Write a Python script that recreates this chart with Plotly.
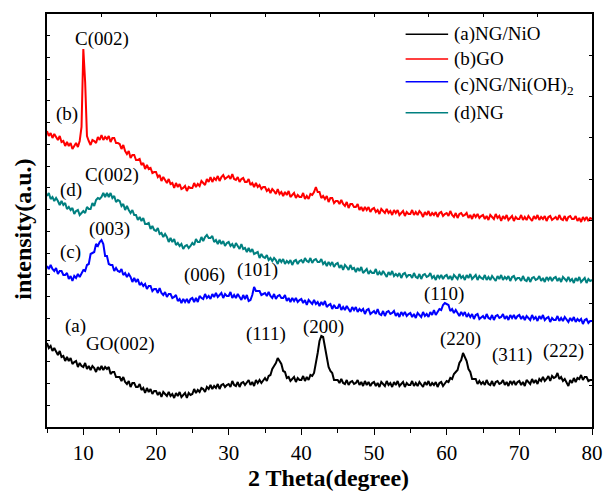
import numpy as np
import plotly.graph_objects as go

# 2-theta sampling grid (degrees), 0.25 deg step
two_theta = np.linspace(5, 80, 301)

# intensities (a.u.)
ng_nio = [
    84, 79, 81, 76, 79, 76, 72, 76, 70, 71, 66, 70, 66, 69, 63, 65, 66, 60, 64, 61,
    60, 64, 58, 61, 57, 61, 59, 55, 60, 57, 61, 57, 60, 58, 60, 53, 55, 55, 50, 50,
    50, 46, 50, 45, 43, 46, 40, 44, 44, 40, 40, 43, 37, 39, 34, 39, 35, 38, 33, 36,
    36, 32, 35, 30, 35, 33, 31, 35, 31, 33, 29, 34, 31, 35, 30, 32, 34, 29, 34, 32,
    33, 38, 34, 37, 35, 39, 38, 35, 40, 38, 42, 38, 41, 39, 43, 38, 42, 43, 40, 42,
    43, 40, 46, 42, 41, 45, 40, 44, 45, 42, 44, 47, 42, 45, 41, 47, 44, 47, 44, 47,
    49, 46, 51, 52, 58, 61, 64, 69, 66, 63, 56, 55, 49, 50, 46, 48, 50, 45, 49, 47,
    47, 51, 46, 50, 47, 52, 51, 54, 63, 74, 86, 91, 90, 78, 70, 60, 56, 54, 47, 47,
    47, 44, 48, 44, 43, 47, 42, 45, 46, 43, 44, 47, 42, 45, 41, 46, 42, 45, 41, 44,
    45, 41, 44, 40, 45, 43, 41, 46, 42, 44, 40, 45, 42, 46, 41, 43, 45, 40, 44, 42,
    42, 46, 41, 44, 41, 45, 43, 40, 45, 42, 46, 41, 44, 42, 45, 40, 44, 45, 41, 44,
    46, 45, 49, 48, 53, 55, 57, 64, 67, 74, 69, 66, 58, 55, 48, 48, 48, 43, 46, 43,
    45, 42, 47, 43, 42, 46, 41, 45, 46, 43, 44, 47, 42, 45, 41, 46, 43, 46, 42, 45,
    46, 42, 45, 41, 47, 45, 43, 48, 44, 47, 43, 48, 46, 50, 46, 48, 51, 46, 51, 49,
    50, 54, 48, 50, 46, 48, 45, 41, 47, 44, 49, 45, 49, 48, 52, 47, 50, 50, 46, 47,
    47,
]

go_sample = [
    296, 291, 294, 289, 293, 290, 287, 291, 285, 286, 281, 285, 281, 284, 278, 281, 284, 280, 286, 300,
    378, 345, 291, 286, 282, 287, 286, 284, 290, 287, 292, 287, 290, 288, 291, 285, 289, 289, 284, 284,
    283, 278, 282, 276, 273, 276, 269, 272, 272, 267, 267, 268, 262, 264, 258, 262, 258, 259, 254, 255,
    255, 250, 252, 246, 250, 247, 244, 248, 243, 244, 239, 244, 240, 243, 238, 239, 241, 236, 240, 239,
    239, 244, 240, 243, 241, 246, 244, 242, 248, 245, 250, 245, 249, 247, 251, 246, 250, 252, 248, 250,
    251, 248, 253, 248, 247, 250, 245, 248, 249, 245, 245, 248, 242, 244, 240, 244, 240, 242, 238, 240,
    240, 236, 238, 234, 238, 236, 233, 238, 233, 235, 231, 235, 232, 236, 230, 232, 234, 229, 232, 230,
    230, 234, 228, 231, 228, 233, 232, 235, 240, 235, 235, 229, 231, 228, 231, 225, 229, 229, 224, 226,
    226, 223, 227, 223, 221, 225, 219, 223, 223, 220, 220, 223, 217, 220, 216, 220, 217, 220, 215, 218,
    219, 215, 217, 213, 218, 216, 214, 218, 214, 216, 212, 217, 214, 217, 212, 214, 216, 211, 215, 213,
    213, 217, 212, 215, 212, 216, 214, 210, 215, 212, 216, 211, 214, 212, 215, 210, 214, 215, 211, 213,
    214, 211, 216, 212, 210, 214, 209, 213, 214, 211, 212, 214, 209, 212, 208, 213, 210, 213, 209, 211,
    212, 208, 211, 207, 212, 210, 208, 213, 209, 211, 206, 211, 208, 212, 207, 209, 211, 206, 210, 208,
    208, 212, 207, 210, 207, 211, 209, 206, 211, 208, 212, 207, 210, 208, 211, 206, 210, 211, 207, 209,
    210, 207, 212, 208, 207, 211, 206, 210, 211, 208, 208, 211, 206, 209, 205, 210, 207, 210, 206, 209,
    208,
]

ng_nioh2 = [
    161, 158, 162, 158, 156, 159, 153, 156, 156, 152, 152, 154, 148, 151, 146, 151, 149, 153, 150, 154,
    157, 156, 162, 163, 173, 174, 175, 183, 181, 185, 187, 183, 171, 171, 163, 162, 162, 156, 159, 156,
    155, 158, 152, 154, 150, 153, 150, 145, 149, 145, 148, 142, 144, 141, 143, 138, 141, 141, 136, 138,
    138, 134, 139, 134, 132, 135, 130, 133, 133, 129, 130, 132, 126, 128, 124, 128, 125, 128, 124, 128,
    129, 125, 129, 125, 131, 129, 128, 133, 129, 131, 128, 133, 130, 134, 130, 132, 134, 129, 133, 131,
    131, 135, 129, 132, 129, 133, 130, 127, 132, 128, 132, 126, 127, 132, 140, 136, 136, 136, 132, 133,
    134, 131, 135, 131, 129, 133, 128, 131, 132, 129, 129, 132, 126, 129, 125, 129, 126, 129, 125, 127,
    128, 124, 127, 122, 127, 125, 123, 127, 123, 125, 121, 125, 122, 126, 120, 122, 123, 118, 122, 119,
    119, 123, 117, 120, 117, 121, 118, 115, 120, 117, 120, 115, 118, 116, 118, 113, 117, 118, 113, 115,
    116, 113, 118, 113, 112, 116, 111, 115, 116, 113, 114, 116, 111, 114, 110, 115, 112, 115, 111, 113,
    114, 110, 113, 109, 114, 112, 110, 115, 111, 113, 110, 115, 112, 117, 112, 115, 118, 117, 122, 124,
    123, 122, 116, 118, 114, 117, 114, 111, 115, 112, 115, 110, 113, 110, 113, 108, 112, 113, 108, 110,
    111, 108, 113, 109, 108, 112, 107, 111, 112, 109, 110, 113, 108, 111, 107, 112, 109, 112, 108, 111,
    112, 108, 111, 107, 111, 109, 107, 112, 108, 110, 106, 111, 108, 112, 107, 109, 110, 105, 109, 107,
    107, 111, 106, 109, 106, 110, 108, 105, 109, 106, 110, 105, 108, 106, 108, 103, 107, 108, 104, 106,
    106,
]

ng = [
    231, 234, 228, 230, 226, 229, 226, 222, 226, 222, 224, 218, 220, 217, 219, 213, 216, 217, 212, 214,
    216, 214, 220, 218, 218, 224, 221, 227, 229, 228, 230, 234, 230, 234, 230, 234, 229, 231, 225, 227,
    226, 221, 223, 217, 221, 217, 214, 217, 212, 212, 207, 210, 206, 209, 203, 203, 204, 198, 201, 197,
    196, 199, 193, 194, 190, 193, 190, 185, 189, 185, 188, 182, 184, 181, 183, 178, 181, 182, 179, 181,
    184, 182, 188, 185, 185, 190, 186, 190, 192, 189, 189, 191, 185, 187, 183, 187, 183, 186, 181, 184,
    185, 181, 183, 179, 184, 181, 178, 183, 178, 179, 175, 179, 175, 178, 173, 174, 175, 169, 173, 170,
    169, 172, 167, 169, 166, 169, 167, 163, 168, 165, 168, 163, 166, 164, 167, 162, 166, 167, 163, 166,
    167, 164, 169, 166, 165, 169, 164, 167, 168, 165, 165, 168, 163, 165, 161, 165, 162, 165, 160, 163,
    164, 159, 162, 157, 162, 160, 157, 162, 158, 159, 155, 159, 156, 160, 154, 156, 158, 153, 156, 154,
    154, 158, 152, 155, 152, 156, 153, 150, 155, 152, 156, 151, 153, 151, 154, 149, 153, 154, 150, 152,
    152, 149, 154, 150, 149, 153, 148, 152, 153, 150, 151, 154, 149, 151, 147, 152, 149, 152, 148, 151,
    152, 148, 151, 147, 152, 150, 148, 153, 149, 151, 147, 152, 149, 153, 148, 150, 152, 147, 151, 149,
    148, 152, 147, 150, 147, 151, 149, 146, 151, 148, 152, 147, 150, 148, 151, 146, 150, 151, 147, 149,
    149, 146, 151, 147, 146, 150, 145, 149, 150, 147, 148, 151, 146, 149, 145, 150, 147, 150, 146, 149,
    150, 146, 149, 145, 150, 148, 146, 150, 146, 148, 144, 149, 146, 150, 145, 147, 149, 144, 148, 146,
    147,
]

series_names = ["(a)NG/NiO", "(b)GO", "(c)NG/Ni(OH)<sub>2</sub>", "(d)NG"]
series_values = [ng_nio, go_sample, ng_nioh2, ng]
series_colors = ["#000000", "#ff0000", "#0000ff", "#008080"]

# peak / curve labels: (text, 2theta, intensity)
peak_labels = [
    ("C(002)", 12.55, 388), ("(b)", 7.7, 313),
    ("(d)", 8.37, 237), ("C(002)", 13.9, 252),
    ("(003)", 13.63, 198), ("(c)", 8.24, 175),
    ("(006)", 26.72, 152), ("(101)", 34.0, 157), ("(110)", 59.63, 133),
    ("(a)", 8.91, 101), ("GO(002)", 15.12, 83),
    ("(111)", 35.08, 93), ("(200)", 43.04, 100), ("(220)", 61.93, 88),
    ("(311)", 68.94, 72), ("(222)", 76.09, 76),
]

SERIF = "Liberation Serif"
X_RANGE = [5, 80]
Y_RANGE = [0, 413]

fig = go.Figure()
for name, vals, col in zip(series_names, series_values, series_colors):
    assert len(vals) == len(two_theta), (name, len(vals))
    fig.add_trace(go.Scatter(x=two_theta, y=vals, mode="lines", name=name,
                             line=dict(color=col, width=2.0), showlegend=False))

# empty traces so that the mirrored top / right frame axes get drawn
fig.add_trace(go.Scatter(x=[], y=[], xaxis="x2", yaxis="y", showlegend=False, hoverinfo="skip"))
fig.add_trace(go.Scatter(x=[], y=[], xaxis="x", yaxis="y2", showlegend=False, hoverinfo="skip"))

annotations = []
for txt, xx, yy in peak_labels:
    annotations.append(dict(x=xx, y=yy, xref="x", yref="y", text=txt, showarrow=False,
                            xanchor="center", yanchor="middle",
                            font=dict(family=SERIF, size=19, color="black")))

# manual legend (top right)
leg_rows_y = [0.951, 0.891, 0.836, 0.761]
shapes = []
for name, col, yy in zip(series_names, series_colors, leg_rows_y):
    shapes.append(dict(type="line", xref="paper", yref="paper", x0=0.658, x1=0.736,
                       y0=yy, y1=yy, line=dict(color=col, width=1.5)))
    annotations.append(dict(x=0.743, y=yy, xref="paper", yref="paper", text=name,
                            showarrow=False, xanchor="left", yanchor="middle",
                            yshift=-4 if "sub" in name else 0,
                            font=dict(family=SERIF, size=19, color="black")))

# axis titles
annotations.append(dict(x=0.516, y=-0.1235, xref="paper", yref="paper",
                        text="<b>2 Theta(degree)</b>", showarrow=False,
                        xanchor="center", yanchor="middle",
                        font=dict(family=SERIF, size=24, color="black")))
annotations.append(dict(x=-0.043, y=0.479, xref="paper", yref="paper",
                        text="<b>intensity(a.u.)</b>", showarrow=False, textangle=-90,
                        xanchor="center", yanchor="middle",
                        font=dict(family=SERIF, size=24, color="black")))

fig.update_layout(
    width=615, height=494, autosize=False,
    margin=dict(l=47, r=12, t=14, b=67),
    paper_bgcolor="white", plot_bgcolor="white",
    showlegend=False,
    font=dict(family=SERIF, color="black"),
    annotations=annotations, shapes=shapes,
    xaxis=dict(range=X_RANGE, tickvals=[10, 20, 30, 40, 50, 60, 70, 80],
               ticks="outside", ticklen=6, tickwidth=1.2, tickcolor="black",
               minor=dict(tick0=5, dtick=5, ticks="outside", ticklen=4, tickwidth=1.2, tickcolor="black"),
               showline=True, linecolor="black", linewidth=1.6, showgrid=False, zeroline=False,
               tickfont=dict(family=SERIF, size=21, color="black")),
    xaxis2=dict(range=X_RANGE, overlaying="x", anchor="y", side="top",
                tick0=5, dtick=7.5, ticks="inside", ticklen=3, tickcolor="black",
                showticklabels=False, showline=True, linecolor="black", linewidth=1.6,
                showgrid=False, zeroline=False),
    yaxis=dict(range=Y_RANGE, tick0=0, dtick=21.75, ticks="inside", ticklen=3,
               tickcolor="black", showticklabels=False, showline=True, linecolor="black",
               linewidth=1.6, showgrid=False, zeroline=False),
    yaxis2=dict(range=Y_RANGE, overlaying="y", anchor="x", side="right",
                tick0=0, dtick=41.3, ticks="inside", ticklen=3, tickcolor="black",
                showticklabels=False, showline=True, linecolor="black", linewidth=1.6,
                showgrid=False, zeroline=False),
)

fig.write_html(
    "out.html",
    config={"displayModeBar": False, "responsive": False},
    post_script=("document.body.style.margin='0px';"
                 "document.body.style.overflow='hidden';"
                 "document.documentElement.style.overflow='hidden';"),
)
